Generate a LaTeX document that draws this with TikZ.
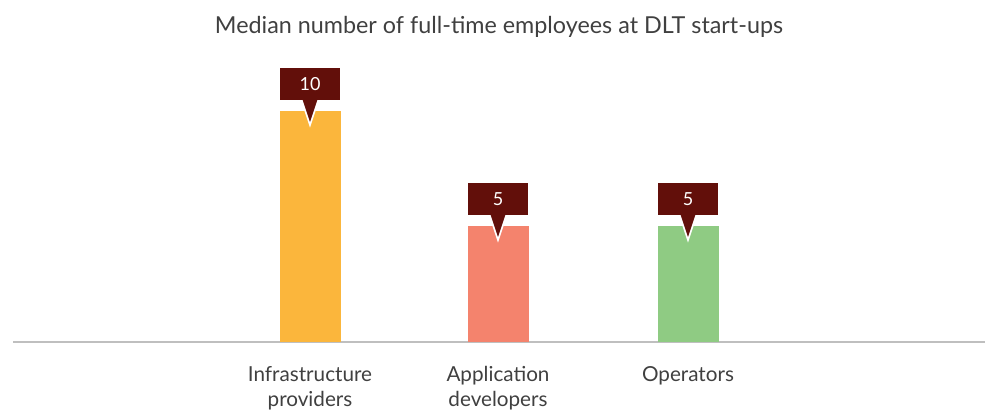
\documentclass[tikz,border=0pt]{standalone}
\usepackage{fontspec}
\setmainfont{Lato}
\definecolor{barjaune}{HTML}{FBB63C}
\definecolor{barrouge}{HTML}{F4836D}
\definecolor{barvert}{HTML}{8FCB83}
\definecolor{bulrouge}{HTML}{620F0A}
\definecolor{texte}{HTML}{404040}
\definecolor{axegris}{HTML}{BFBFBF}
\tikzset{
  bulle/.style={fill=bulrouge, draw=white, line width=1.2pt, line join=miter},
  valeur/.style={text=white, font=\fontsize{13.5}{15}\selectfont},
  categorie/.style={text=texte, align=center, font=\fontsize{15.5}{18.75}\selectfont},
}
\begin{document}
\begin{tikzpicture}[x=0.75pt,y=-0.75pt]
        \useasboundingbox (0,0) rectangle (990,412);
        % Titre
        \node[text=texte, font=\fontsize{17.5}{20}\selectfont] (titre) at (499,27) {Median number of full-time employees at DLT start-ups};

        % Axe
        \draw[axegris, line width=1pt] (13,342) -- (985,342);

        % Barres et bulles
        \foreach \x/\h/\c/\v/\n in {310/111/barjaune/10/infra, 498/226/barrouge/5/appli, 688/226/barvert/5/oper} {
            \fill[\c] (\x-30.5,\h) rectangle (\x+30.5,342);
            \path[bulle] (\x-31,\h-44) -- (\x+31,\h-44) -- (\x+31,\h-10) -- (\x+8,\h-10)
                -- (\x,\h+14) -- (\x-8,\h-10) -- (\x-31,\h-10) -- cycle;
            \node[valeur] (val-\n) at (\x,\h-27) {\v};
        }

        % Categories
        \node[categorie, anchor=north] (cat-infra) at (310,362) {Infrastructure\\providers};
        \node[categorie, anchor=north] (cat-appli) at (498,362) {Application\\developers};
        \node[categorie, anchor=north] (cat-oper) at (688,362) {Operators};
    \end{tikzpicture}
\end{document}
